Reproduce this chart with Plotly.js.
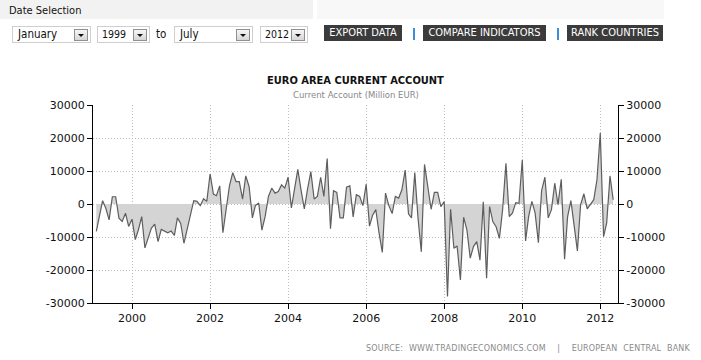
<!DOCTYPE html>
<html><head><meta charset="utf-8">
<script src="https://cdn.plot.ly/plotly-3.0.1.min.js"></script>
<style>
body{margin:0;width:701px;height:360px;overflow:hidden;background:#fff;font-family:"DejaVu Sans Condensed","DejaVu Sans",sans-serif;}
#chart{position:absolute;left:0;top:0;width:701px;height:360px;}
.abs{position:absolute;z-index:5;}
.band1{left:0;top:0;width:313px;height:19px;background:#f2f2f2;}
.band2{left:317px;top:0;width:347px;height:19px;background:#f8f8f8;}
.lbl{left:9px;top:4px;font-size:11px;color:#111;}
.sel{top:26px;height:17px;border:1px solid #cfcfcf;background:#fff;box-sizing:border-box;font-size:11.5px;color:#111;}
.sel span{position:absolute;left:5px;top:0px;line-height:15px;}
.sel.yr{font-size:10.5px;}
.sel.yr span{left:4px;}
.arr{position:absolute;right:2px;top:2px;width:14px;height:12px;border:1px solid #8f8f8f;background:linear-gradient(#f6f6f6,#d6d6d6);box-sizing:border-box;}
.arr:after{content:"";position:absolute;left:3px;top:4px;border-left:3px solid transparent;border-right:3px solid transparent;border-top:3px solid #111;}
.to{top:27px;left:156px;font-size:11.5px;color:#111;}
.btn{top:25px;height:16px;background:#3b3b3b;color:#fff;font-size:11px;line-height:16px;text-align:center;}
.sep{top:28px;width:2px;height:12px;}
.src{right:11px;top:344px;font-size:8px;color:#8a8a8a;letter-spacing:0.2px;word-spacing:3px;white-space:nowrap;font-family:"DejaVu Sans",sans-serif;}
</style>
</head><body>
<div class="abs band1"></div>
<div class="abs band2"></div>
<div class="abs lbl">Date Selection</div>
<div class="abs sel" style="left:12px;width:79px;"><span>January</span><div class="arr"></div></div>
<div class="abs sel yr" style="left:97px;width:53px;"><span>1999</span><div class="arr"></div></div>
<div class="abs to">to</div>
<div class="abs sel" style="left:174px;width:79px;"><span>July</span><div class="arr"></div></div>
<div class="abs sel yr" style="left:260px;width:48px;"><span>2012</span><div class="arr"></div></div>
<div class="abs btn" style="left:324px;width:78px;">EXPORT DATA</div>
<div class="abs sep" style="left:413px;background:#3a8fd8;"></div>
<div class="abs btn" style="left:423px;width:123px;">COMPARE INDICATORS</div>
<div class="abs sep" style="left:557px;background:#3a8fd8;"></div>
<div class="abs btn" style="left:567px;width:96px;">RANK COUNTRIES</div>
<div class="abs src">SOURCE: WWW.TRADINGECONOMICS.COM &nbsp;| &nbsp;EUROPEAN CENTRAL BANK</div>
<div id="chart"></div>
<script>
// Monthly euro area current account, million EUR, Jan 1999 .. Apr 2012
const startYear = 1999;
const values = [
 -8300,-3500,1000,-1300,-4800,2200,2200,-4300,-5300,-2800,-6800,-4600,
 -10800,-7800,-3800,-13300,-10200,-7300,-6100,-11400,-7700,-8200,-8700,-8200,
 -9500,-4200,-5900,-11900,-7700,-3200,1000,800,-500,1600,800,9100,
 3000,2500,5500,-8700,-1700,5500,9500,6800,6800,1500,8500,5300,
 -4200,-500,300,-7900,-3700,2300,4800,3300,3800,5800,4800,8100,
 -1200,4500,10500,4300,-1500,4500,9800,1500,2300,8100,2300,13800,
 -7500,4000,3500,-4200,-4200,5100,5500,-3900,2800,2300,-500,6000,
 -6700,-3500,-1700,-8700,-14700,3300,-500,-2900,2300,1800,4300,10300,
 -3000,-4200,9500,-4200,-14500,12000,4500,-1600,3500,3500,-800,700,
 -28000,-1600,-13400,-12700,-23000,-4000,-7900,-16400,-12900,-11400,-17000,700,
 -22500,-800,-5400,-6900,-10400,-1700,12300,-3800,-2800,400,200,13300,
 -11200,-3900,800,-2700,-11700,4100,8100,-4200,-1700,6300,-200,7500,
 -16700,-3900,1000,-6200,-14200,-200,3100,-1500,-200,1300,7300,21500,
 -9900,-5700,8500,1300
];
const months = values.map((v,i)=>{
  const y = startYear + Math.floor(i/12), m = (i%12)+1;
  return y + '-' + (m<10?'0':'') + m;
});
const tickVals = [-30000,-20000,-10000,0,10000,20000,30000];
const tickText = ['-30000','-20000','-10000','0','10000','20000','30000'];

const tf = {family:'DejaVu Sans, sans-serif', size:11, color:'#111'};
const main = {
  x: months, y: values, type:'scatter', mode:'lines',
  xperiod:'M1', xperiodalignment:'end',
  line:{color:'#5e5e5e', width:1.2},
  fill:'tozeroy', fillcolor:'#d4d4d4', hoverinfo:'x+y', showlegend:false
};
const ghost = {
  x: months, y: values, type:'scatter', mode:'lines', yaxis:'y2',
  xperiod:'M1', xperiodalignment:'end',
  line:{color:'rgba(0,0,0,0)', width:0}, hoverinfo:'skip', showlegend:false
};
const grid = {showgrid:true, gridcolor:'#bdbdbd', griddash:'1px,2px', gridwidth:1};
const layout = {
  width:701, height:360,
  margin:{l:93, r:83, t:105, b:57},
  paper_bgcolor:'#fff', plot_bgcolor:'#fff',
  showlegend:false,
  xaxis:Object.assign({type:'date', range:['1999-01-01','2012-06-15'],
    tick0:'2000-01-01', dtick:'M24', tickformat:'%Y',
    ticks:'outside', ticklen:5, tickcolor:'#000',
    showline:true, linecolor:'#000', linewidth:1,
    zeroline:false, tickfont:tf, fixedrange:true}, grid),
  yaxis:Object.assign({range:[-30000,30000], tickvals:tickVals, ticktext:tickText,
    ticks:'outside', ticklen:5, tickcolor:'#000',
    showline:true, linecolor:'#000', linewidth:1,
    zeroline:false, tickfont:tf, fixedrange:true}, grid),
  yaxis2:{range:[-30000,30000], overlaying:'y', side:'right',
    tickvals:tickVals, ticktext:tickText,
    ticks:'outside', ticklen:5, tickcolor:'#000',
    showline:true, linecolor:'#000', linewidth:1,
    showgrid:false, zeroline:false, tickfont:tf, fixedrange:true},
  annotations:[
    {text:'<b>EURO AREA CURRENT ACCOUNT</b>', xref:'paper', yref:'paper',
     x:0.5, y:(303-80)/198, xanchor:'center', yanchor:'middle', showarrow:false,
     font:{family:'DejaVu Sans Condensed, DejaVu Sans, sans-serif', size:11, color:'#111'}},
    {text:'Current Account (Million EUR)', xref:'paper', yref:'paper',
     x:0.5, y:(303-95)/198, xanchor:'center', yanchor:'middle', showarrow:false,
     font:{family:'DejaVu Sans, sans-serif', size:8.5, color:'#888'}}
  ]
};
Plotly.newPlot('chart', [main, ghost], layout, {displayModeBar:false, staticPlot:true});
</script>
</body></html>
